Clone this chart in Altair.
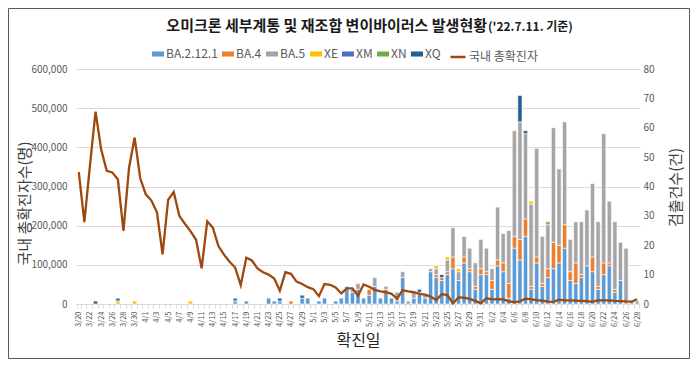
import json
import altair as alt
import pandas as pd

FONT = "Noto Sans CJK KR"

# ---- categories: daily dates 3/20 .. 6/28 ----
month_spans = [("3", 20, 31), ("4", 1, 30), ("5", 1, 31), ("6", 1, 28)]
dates = [f"{m}/{d}" for m, a, b in month_spans for d in range(a, b + 1)]
shown_labels = dates[::2]

# ---- detection counts (right axis) ----
BA_2_12_1 = [
    0, 0, 0, 0, 0, 0, 0, 0, 0, 0,
    0, 0, 0, 0, 0, 0, 0, 0, 0, 0,
    0, 0, 0, 0, 0, 0, 0, 0, 1, 0,
    1, 0, 0, 0, 2, 1, 1, 0, 0, 0,
    2, 2, 0, 1, 2, 0, 1, 2, 6, 4,
    5, 2, 3, 6, 2, 4, 2, 1, 9, 0,
    2, 4, 2, 11, 9, 8, 10, 12, 8, 14,
    11, 5, 10, 10, 5, 13, 11, 2, 19, 15,
    23, 5, 14, 6, 9, 12, 14, 19, 8, 7,
    9, 13, 11, 5, 10, 13, 4, 8, 0, 0,
    0,
]
BA_4 = [
    0, 0, 0, 0, 0, 0, 0, 0, 0, 0,
    0, 0, 0, 0, 0, 0, 0, 0, 0, 0,
    0, 0, 0, 0, 0, 0, 0, 0, 0, 0,
    0, 0, 0, 0, 0, 0, 0, 0, 1, 0,
    0, 0, 0, 0, 0, 0, 0, 0, 0, 0,
    0, 0, 2, 0, 0, 1, 0, 0, 0, 0,
    0, 0, 0, 0, 1, 1, 1, 4, 0, 2,
    1, 1, 2, 1, 3, 2, 3, 5, 4, 7,
    6, 1, 2, 1, 3, 9, 6, 8, 3, 7,
    1, 0, 5, 1, 4, 1, 1, 0, 0, 0,
    0,
]
BA_5 = [
    0, 0, 0, 0, 0, 0, 0, 0, 0, 0,
    0, 0, 0, 0, 0, 0, 0, 0, 0, 0,
    0, 0, 0, 0, 0, 0, 0, 0, 0, 0,
    0, 0, 0, 0, 0, 0, 0, 0, 0, 0,
    0, 0, 0, 0, 0, 0, 0, 0, 0, 1,
    2, 0, 0, 3, 0, 1, 0, 3, 2, 1,
    2, 0, 1, 1, 2, 0, 4, 10, 3, 7,
    7, 8, 10, 8, 4, 18, 10, 18, 36, 40,
    29, 28, 37, 16, 15, 39, 26, 35, 11, 14,
    18, 19, 25, 22, 44, 21, 23, 13, 19, 1,
    1,
]
XE = {"3/27": 1, "3/30": 1, "4/9": 1, "5/23": 1, "5/25": 1, "5/27": 1, "6/9": 1}
XM = {"3/27": 1, "4/17": 1}
XN = {"6/12": 1}
XQ = {"3/23": 1, "4/25": 1, "4/29": 1, "5/20": 1, "5/24": 1, "6/7": 9, "6/8": 1}

# ---- national confirmed cases (left axis) ----
cases = [
    337000, 209000, 354000, 491000, 395000, 340000, 336000, 318000, 187000, 348000,
    425000, 321000, 280000, 264000, 234000, 127000, 266000, 286000, 225000, 205000,
    186000, 164000, 91000, 211000, 195000, 148000, 126000, 108000, 93000, 48000,
    118000, 111000, 91000, 81000, 75000, 65000, 34000, 81000, 77000, 57000,
    51000, 43000, 38000, 20000, 51000, 49000, 42000, 27000, 40000, 40000,
    21000, 50000, 44000, 36000, 32000, 30000, 26000, 14000, 35000, 32000,
    30000, 26000, 24000, 19000, 10000, 25000, 23000, 1500, 17000, 16000,
    13000, 8000, 1500, 15000, 12000, 12500, 12000, 7000, 4500, 7000,
    13500, 12000, 10000, 8500, 6000, 5500, 11000, 9500, 9000, 8500,
    8000, 7500, 5500, 10000, 9500, 9000, 8000, 7500, 6500, 6000,
    12000,
]

series_names = ["BA.2.12.1", "BA.4", "BA.5", "XE", "XM", "XN", "XQ"]
series_colors = ["#5B9BD5", "#ED7D31", "#A5A5A5", "#FFC000", "#4472C4", "#70AD47", "#255E91"]
line_name = "국내 총확진자"
line_color = "#9E480E"

dense = {"BA.2.12.1": BA_2_12_1, "BA.4": BA_4, "BA.5": BA_5}
sparse = {"XE": XE, "XM": XM, "XN": XN, "XQ": XQ}
rows = []
for k, name in enumerate(series_names):
    if name in dense:
        vals = dict(zip(dates, dense[name]))
    else:
        vals = sparse[name]
    for d in dates:
        v = vals.get(d, 0)
        if v > 0:
            rows.append({"date": d, "variant": name, "k": k, "count": v})
bars_df = pd.DataFrame(rows)
line_df = pd.DataFrame({"date": dates, "cases": cases, "series": line_name})

W, H = 564, 235
PAD = {"left": 68, "top": 61, "right": 50, "bottom": 55}

label_expr = ("indexof(" + json.dumps(shown_labels, ensure_ascii=False)
              + ", datum.value) >= 0 ? datum.label : ''")

x_axis = alt.Axis(
    labelExpr=label_expr, labelAngle=270, labelFontSize=7.5, labelColor="#595959",
    labelPadding=3, labelOverlap=False, labelFont=FONT,
    ticks=True, tickBand="extent", tickColor="#D9D9D9", tickSize=4,
    domainColor="#D9D9D9", grid=False,
    title="확진일", titleFontSize=16, titleFontWeight="normal", titleColor="#262626",
    titleFont=FONT, titleY=36, titleBaseline="middle",
)
x_enc = alt.X("date:N", sort=dates,
              scale=alt.Scale(domain=dates, paddingInner=0.25, paddingOuter=0.125),
              axis=x_axis)

sym_rect = "M-1,-0.42H1V0.42H-1Z"
color_legend = alt.Legend(
    orient="none", legendX=76, legendY=-21, direction="horizontal", title=None,
    symbolType=sym_rect, symbolSize=144, symbolStrokeWidth=0,
    labelFontSize=12, labelColor="#595959", labelFont=FONT,
    labelOffset=2, columnPadding=4,
)
line_legend = alt.Legend(
    orient="none", legendX=373, legendY=-21, direction="horizontal", title=None,
    symbolType="stroke", symbolSize=225, symbolStrokeWidth=2.5,
    labelFontSize=12, labelColor="#595959", labelFont=FONT, labelOffset=2,
)

bars = alt.Chart(bars_df).mark_bar(stroke="white", strokeWidth=0.6).encode(
    x=x_enc,
    y=alt.Y("count:Q", stack="zero",
            scale=alt.Scale(domain=[0, 80]),
            axis=alt.Axis(orient="right", values=list(range(0, 81, 10)),
                          labelFontSize=10, labelColor="#595959", labelPadding=3,
                          labelFont=FONT, ticks=False, domain=False, grid=False,
                          title="검출건수(건)", titleFontSize=15, titleFontWeight="normal",
                          titleColor="#404040", titleFont=FONT, titleX=35, titleY=118,
                          titleAngle=270, titleAlign="center", titleBaseline="middle")),
    color=alt.Color("variant:N",
                    scale=alt.Scale(domain=series_names, range=series_colors),
                    legend=color_legend),
    order=alt.Order("k:Q", sort="ascending"),
)

line = alt.Chart(line_df).mark_line(strokeWidth=2.3).encode(
    x=x_enc,
    y=alt.Y("cases:Q",
            scale=alt.Scale(domain=[0, 600000]),
            axis=alt.Axis(orient="left", values=list(range(0, 600001, 100000)),
                          format=",d", labelFontSize=10, labelColor="#595959",
                          labelPadding=9, labelFont=FONT, ticks=False, domain=False,
                          grid=True, gridColor="#D9D9D9",
                          title="국내 총확진자수(명)", titleFontSize=15,
                          titleFontWeight="normal", titleColor="#404040", titleFont=FONT,
                          titleX=-52, titleY=134, titleAngle=270, titleAlign="center",
                          titleBaseline="middle")),
    stroke=alt.Stroke("series:N",
                      scale=alt.Scale(domain=[line_name], range=[line_color]),
                      legend=line_legend),
)

one = alt.Data(values=[{}])
frame = alt.Chart(one).mark_rect(fill="transparent", stroke="#595959", strokeWidth=1).encode(
    x=alt.value(-67.5), x2=alt.value(W + PAD["right"] - 0.5),
    y=alt.value(-60.5), y2=alt.value(H + PAD["bottom"] - 0.5),
)
title_main = alt.Chart(one).mark_text(
    text="오미크론 세부계통 및 재조합 변이바이러스 발생현황", align="right",
    baseline="alphabetic", fontSize=15, fontWeight="bold", font=FONT, color="#1a1a1a",
).encode(x=alt.value(411), y=alt.value(-38))
title_date = alt.Chart(one).mark_text(
    text="('22.7.11. 기준)", align="left", baseline="alphabetic", fontSize=12,
    fontWeight="bold", font=FONT, color="#1a1a1a",
).encode(x=alt.value(412), y=alt.value(-38))

chart = alt.layer(frame, bars, line, title_main, title_date).resolve_scale(
    y="independent"
).properties(
    width=W, height=H, padding=PAD, autosize=alt.AutoSizeParams(type="none"),
).configure(font=FONT).configure_view(stroke=None)

chart.save("out.html", embed_options={"renderer": "svg", "actions": False})
